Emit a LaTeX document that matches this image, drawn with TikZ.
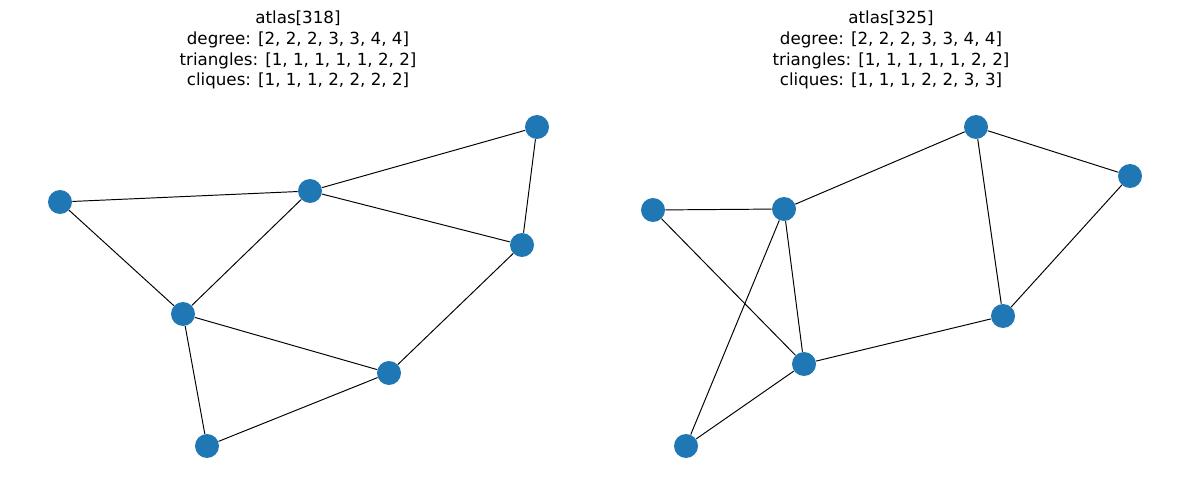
\documentclass[tikz,border=0pt]{standalone}
\usepackage{fontspec}
\setmainfont{DejaVu Sans}
\definecolor{nodeblue}{HTML}{1F77B4}
\tikzset{
  vtx/.style={circle,fill=nodeblue,inner sep=0pt,minimum size=0.48cm},
  title/.style={align=center,font=\fontsize{9.5}{11.9}\selectfont}
}
\begin{document}
\begin{tikzpicture}[x=0.02cm,y=-0.02cm]
\useasboundingbox (0,0) rectangle (1189,489);
% left graph
\foreach \n/\x/\y in {a/60/202, b/310/191, c/537/127, d/522/245, e/183/314, f/389/373, g/207/446}
  {\node[vtx] (\n) at (\x,\y) {};}
\foreach \s/\t in {a/b, b/c, c/d, b/d, a/e, b/e, e/f, d/f, e/g, g/f}
  {\draw[line width=0.55pt] (\s) -- (\t);}
% right graph
\foreach \n/\x/\y in {h/653/210, i/784/209, j/976/127, k/1130/176, l/1003/316, m/804/364, n/686/446}
  {\node[vtx] (\n) at (\x,\y) {};}
\foreach \s/\t in {h/i, h/m, i/j, i/m, i/n, j/k, j/l, k/l, l/m, m/n}
  {\draw[line width=0.55pt] (\s) -- (\t);}
% titles
\node[title] (t318) at (298,50) {atlas[318]\\degree: [2, 2, 2, 3, 3, 4, 4]\\triangles: [1, 1, 1, 1, 1, 2, 2]\\cliques: [1, 1, 1, 2, 2, 2, 2]};
\node[title] (t325) at (891,50) {atlas[325]\\degree: [2, 2, 2, 3, 3, 4, 4]\\triangles: [1, 1, 1, 1, 1, 2, 2]\\cliques: [1, 1, 1, 2, 2, 3, 3]};
\end{tikzpicture}
\end{document}
